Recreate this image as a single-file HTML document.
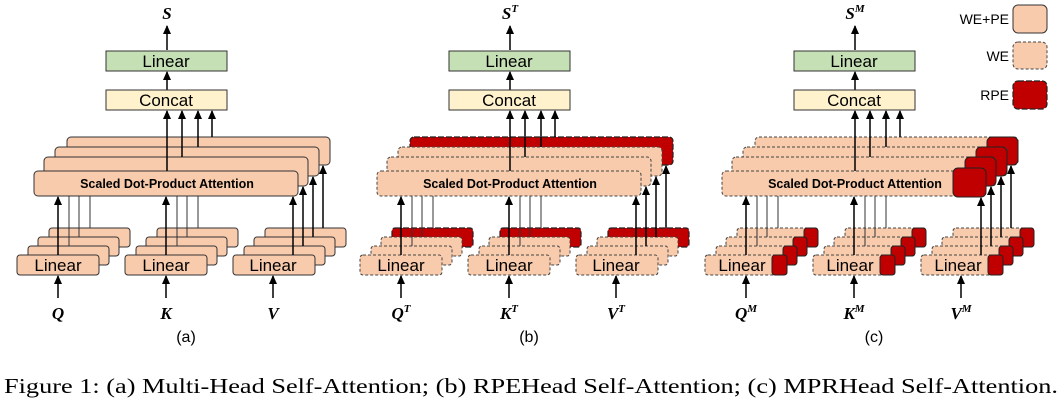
<!DOCTYPE html>
<html><head><meta charset="utf-8"><style>
body{margin:0;background:#fff;width:1064px;height:401px;overflow:hidden}
svg{display:block}
.p{fill:#F8CBAD;stroke:#333;stroke-width:1}
.d{fill:#F8CBAD;stroke:#444;stroke-width:1;stroke-dasharray:3,2}
.r{fill:#C00000;stroke:#222;stroke-width:1.2;stroke-dasharray:6,2}
.rs{fill:#C00000;stroke:#222;stroke-width:1}
.l{stroke:#000;stroke-width:1.5}
.t{stroke:#333;stroke-width:1}
.lab{font-family:"Liberation Sans",sans-serif}
.m{font-family:"Liberation Serif",serif;font-weight:bold;font-style:italic;font-size:17px}
</style></head><body>
<svg width="1064" height="401" viewBox="0 0 1064 401" xmlns="http://www.w3.org/2000/svg">
<defs><marker id="ah" markerWidth="9" markerHeight="8" refX="8" refY="4" orient="auto" markerUnits="userSpaceOnUse" viewBox="0 0 9 8"><path d="M0,0 L9,4 L0,8 z" fill="#000"/></marker></defs>

<!-- PANEL A -->
<g>
<text x="167" y="19" class="m" text-anchor="middle">S</text>
<line x1="167" y1="50" x2="167" y2="26" class="l" marker-end="url(#ah)"/>
<rect x="106" y="51" width="121" height="20" fill="#C5E0B4" stroke="#333"/>
<text x="166" y="67" class="lab" font-size="17" text-anchor="middle">Linear</text>
<line x1="167" y1="90" x2="167" y2="72" class="l" marker-end="url(#ah)"/>
<rect x="106" y="90" width="121" height="20" fill="#FFF2CC" stroke="#333"/>
<text x="166" y="106" class="lab" font-size="17" text-anchor="middle">Concat</text>
<rect x="67" y="137" width="263" height="28" rx="4" class="p"/>
<rect x="55" y="147" width="264" height="29" rx="4" class="p"/>
<rect x="44" y="157" width="264" height="29" rx="4" class="p"/>
<rect x="34" y="171" width="264" height="25" rx="4" class="p"/>
<text x="167" y="188" class="lab" font-size="12.5" font-weight="bold" text-anchor="middle">Scaled Dot-Product Attention</text>
<line x1="167" y1="171" x2="167" y2="111" class="l" marker-end="url(#ah)"/>
<line x1="182" y1="157" x2="182" y2="111" class="l" marker-end="url(#ah)"/>
<line x1="198" y1="147" x2="198" y2="111" class="l" marker-end="url(#ah)"/>
<line x1="212" y1="137" x2="212" y2="111" class="l" marker-end="url(#ah)"/>
<g><rect x="49" y="228" width="81" height="19" rx="3" class="p"/><rect x="38" y="237" width="81" height="19" rx="3" class="p"/><rect x="28" y="246" width="81" height="19" rx="3" class="p"/><rect x="17" y="255" width="82" height="20" rx="3" class="p"/><text x="58" y="271" class="lab" font-size="17" text-anchor="middle">Linear</text></g>
<g><rect x="157" y="228" width="81" height="19" rx="3" class="p"/><rect x="146" y="237" width="81" height="19" rx="3" class="p"/><rect x="136" y="246" width="81" height="19" rx="3" class="p"/><rect x="125" y="255" width="82" height="20" rx="3" class="p"/><text x="166" y="271" class="lab" font-size="17" text-anchor="middle">Linear</text></g>
<g><rect x="265" y="228" width="81" height="19" rx="3" class="p"/><rect x="254" y="237" width="81" height="19" rx="3" class="p"/><rect x="244" y="246" width="81" height="19" rx="3" class="p"/><rect x="233" y="255" width="82" height="20" rx="3" class="p"/><text x="273" y="271" class="lab" font-size="17" text-anchor="middle">Linear</text></g>
<line x1="58" y1="255" x2="58" y2="197" class="l" marker-end="url(#ah)"/>
<line x1="69" y1="246" x2="69" y2="196" class="t"/><line x1="79" y1="237" x2="79" y2="196" class="t"/><line x1="90" y1="228" x2="90" y2="196" class="t"/>
<line x1="166" y1="255" x2="166" y2="197" class="l" marker-end="url(#ah)"/>
<line x1="177" y1="246" x2="177" y2="196" class="t"/><line x1="187" y1="237" x2="187" y2="196" class="t"/><line x1="198" y1="228" x2="198" y2="196" class="t"/>
<line x1="293" y1="255" x2="293" y2="197" class="l" marker-end="url(#ah)"/>
<line x1="303" y1="246" x2="303" y2="187" class="l" marker-end="url(#ah)"/>
<line x1="313" y1="237" x2="313" y2="177" class="l" marker-end="url(#ah)"/>
<line x1="323" y1="228" x2="323" y2="166" class="l" marker-end="url(#ah)"/>
<line x1="58" y1="298" x2="58" y2="276" class="l" marker-end="url(#ah)"/>
<line x1="166" y1="298" x2="166" y2="276" class="l" marker-end="url(#ah)"/>
<line x1="273" y1="298" x2="273" y2="276" class="l" marker-end="url(#ah)"/>
<text x="58" y="319" class="m" text-anchor="middle">Q</text>
<text x="166" y="319" class="m" text-anchor="middle">K</text>
<text x="273" y="319" class="m" text-anchor="middle">V</text>
<text x="186" y="342" class="lab" font-size="16" text-anchor="middle">(a)</text>
</g>

<!-- PANEL B -->
<g transform="translate(343,0)">
<text x="167" y="19" class="m" text-anchor="middle">S<tspan font-size="11" dy="-7">T</tspan></text>
<line x1="167" y1="50" x2="167" y2="26" class="l" marker-end="url(#ah)"/>
<rect x="106" y="51" width="121" height="20" fill="#C5E0B4" stroke="#333"/>
<text x="166" y="67" class="lab" font-size="17" text-anchor="middle">Linear</text>
<line x1="167" y1="90" x2="167" y2="72" class="l" marker-end="url(#ah)"/>
<rect x="106" y="90" width="121" height="20" fill="#FFF2CC" stroke="#333"/>
<text x="166" y="106" class="lab" font-size="17" text-anchor="middle">Concat</text>
<rect x="67" y="137" width="263" height="28" rx="4" class="r"/>
<rect x="55" y="147" width="264" height="29" rx="4" class="d"/>
<rect x="44" y="157" width="264" height="29" rx="4" class="d"/>
<rect x="34" y="171" width="264" height="25" rx="4" class="d"/>
<text x="167" y="188" class="lab" font-size="12.5" font-weight="bold" text-anchor="middle">Scaled Dot-Product Attention</text>
<line x1="167" y1="171" x2="167" y2="111" class="l" marker-end="url(#ah)"/>
<line x1="182" y1="157" x2="182" y2="111" class="l" marker-end="url(#ah)"/>
<line x1="198" y1="147" x2="198" y2="111" class="l" marker-end="url(#ah)"/>
<line x1="212" y1="137" x2="212" y2="111" class="l" marker-end="url(#ah)"/>
<g><rect x="49" y="228" width="81" height="19" rx="3" class="r"/><rect x="38" y="237" width="81" height="19" rx="3" class="d"/><rect x="28" y="246" width="81" height="19" rx="3" class="d"/><rect x="17" y="255" width="82" height="20" rx="3" class="d"/><text x="58" y="271" class="lab" font-size="17" text-anchor="middle">Linear</text></g>
<g><rect x="157" y="228" width="81" height="19" rx="3" class="r"/><rect x="146" y="237" width="81" height="19" rx="3" class="d"/><rect x="136" y="246" width="81" height="19" rx="3" class="d"/><rect x="125" y="255" width="82" height="20" rx="3" class="d"/><text x="166" y="271" class="lab" font-size="17" text-anchor="middle">Linear</text></g>
<g><rect x="265" y="228" width="81" height="19" rx="3" class="r"/><rect x="254" y="237" width="81" height="19" rx="3" class="d"/><rect x="244" y="246" width="81" height="19" rx="3" class="d"/><rect x="233" y="255" width="82" height="20" rx="3" class="d"/><text x="273" y="271" class="lab" font-size="17" text-anchor="middle">Linear</text></g>
<line x1="58" y1="255" x2="58" y2="197" class="l" marker-end="url(#ah)"/>
<line x1="69" y1="246" x2="69" y2="196" class="t"/><line x1="79" y1="237" x2="79" y2="196" class="t"/><line x1="90" y1="228" x2="90" y2="196" class="t"/>
<line x1="166" y1="255" x2="166" y2="197" class="l" marker-end="url(#ah)"/>
<line x1="177" y1="246" x2="177" y2="196" class="t"/><line x1="187" y1="237" x2="187" y2="196" class="t"/><line x1="198" y1="228" x2="198" y2="196" class="t"/>
<line x1="293" y1="255" x2="293" y2="197" class="l" marker-end="url(#ah)"/>
<line x1="303" y1="246" x2="303" y2="187" class="l" marker-end="url(#ah)"/>
<line x1="313" y1="237" x2="313" y2="177" class="l" marker-end="url(#ah)"/>
<line x1="323" y1="228" x2="323" y2="166" class="l" marker-end="url(#ah)"/>
<line x1="58" y1="298" x2="58" y2="276" class="l" marker-end="url(#ah)"/>
<line x1="166" y1="298" x2="166" y2="276" class="l" marker-end="url(#ah)"/>
<line x1="273" y1="298" x2="273" y2="276" class="l" marker-end="url(#ah)"/>
<text x="58" y="319" class="m" text-anchor="middle">Q<tspan font-size="11" dy="-7">T</tspan></text>
<text x="166" y="319" class="m" text-anchor="middle">K<tspan font-size="11" dy="-7">T</tspan></text>
<text x="273" y="319" class="m" text-anchor="middle">V<tspan font-size="11" dy="-7">T</tspan></text>
<text x="186" y="342" class="lab" font-size="16" text-anchor="middle">(b)</text>
</g>

<!-- PANEL C -->
<g transform="translate(688,0)">
<text x="167" y="19" class="m" text-anchor="middle">S<tspan font-size="11" dy="-7">M</tspan></text>
<line x1="167" y1="50" x2="167" y2="26" class="l" marker-end="url(#ah)"/>
<rect x="106" y="51" width="121" height="20" fill="#C5E0B4" stroke="#333"/>
<text x="166" y="67" class="lab" font-size="17" text-anchor="middle">Linear</text>
<line x1="167" y1="90" x2="167" y2="72" class="l" marker-end="url(#ah)"/>
<rect x="106" y="90" width="121" height="20" fill="#FFF2CC" stroke="#333"/>
<text x="166" y="106" class="lab" font-size="17" text-anchor="middle">Concat</text>
<rect x="67" y="137" width="263" height="28" rx="4" class="d"/><rect x="299" y="137" width="31" height="28" rx="5" class="rs"/>
<rect x="55" y="147" width="264" height="29" rx="4" class="d"/><rect x="288" y="147" width="31" height="29" rx="5" class="rs"/>
<rect x="44" y="157" width="264" height="29" rx="4" class="d"/><rect x="277" y="157" width="31" height="29" rx="5" class="rs"/>
<rect x="34" y="171" width="264" height="25" rx="4" class="d"/>
<text x="167" y="188" class="lab" font-size="12.5" font-weight="bold" text-anchor="middle">Scaled Dot-Product Attention</text>
<rect x="265" y="168" width="33" height="29" rx="5" class="rs"/>
<line x1="167" y1="171" x2="167" y2="111" class="l" marker-end="url(#ah)"/>
<line x1="182" y1="157" x2="182" y2="111" class="l" marker-end="url(#ah)"/>
<line x1="198" y1="147" x2="198" y2="111" class="l" marker-end="url(#ah)"/>
<line x1="212" y1="137" x2="212" y2="111" class="l" marker-end="url(#ah)"/>
<g><rect x="49" y="228" width="81" height="19" rx="3" class="d"/><rect x="116" y="228" width="14" height="19" rx="3" class="rs"/><rect x="38" y="237" width="81" height="19" rx="3" class="d"/><rect x="105" y="237" width="14" height="19" rx="3" class="rs"/><rect x="28" y="246" width="81" height="19" rx="3" class="d"/><rect x="95" y="246" width="14" height="19" rx="3" class="rs"/><rect x="17" y="255" width="82" height="20" rx="3" class="d"/><text x="54" y="271" class="lab" font-size="17" text-anchor="middle">Linear</text><rect x="84" y="255" width="15" height="20" rx="3" class="rs"/></g>
<g><rect x="157" y="228" width="81" height="19" rx="3" class="d"/><rect x="224" y="228" width="14" height="19" rx="3" class="rs"/><rect x="146" y="237" width="81" height="19" rx="3" class="d"/><rect x="213" y="237" width="14" height="19" rx="3" class="rs"/><rect x="136" y="246" width="81" height="19" rx="3" class="d"/><rect x="203" y="246" width="14" height="19" rx="3" class="rs"/><rect x="125" y="255" width="82" height="20" rx="3" class="d"/><text x="162" y="271" class="lab" font-size="17" text-anchor="middle">Linear</text><rect x="192" y="255" width="15" height="20" rx="3" class="rs"/></g>
<g><rect x="265" y="228" width="81" height="19" rx="3" class="d"/><rect x="332" y="228" width="14" height="19" rx="3" class="rs"/><rect x="254" y="237" width="81" height="19" rx="3" class="d"/><rect x="321" y="237" width="14" height="19" rx="3" class="rs"/><rect x="244" y="246" width="81" height="19" rx="3" class="d"/><rect x="311" y="246" width="14" height="19" rx="3" class="rs"/><rect x="233" y="255" width="82" height="20" rx="3" class="d"/><text x="270" y="271" class="lab" font-size="17" text-anchor="middle">Linear</text><rect x="300" y="255" width="15" height="20" rx="3" class="rs"/></g>
<line x1="58" y1="255" x2="58" y2="197" class="l" marker-end="url(#ah)"/>
<line x1="69" y1="246" x2="69" y2="196" class="t"/><line x1="79" y1="237" x2="79" y2="196" class="t"/><line x1="90" y1="228" x2="90" y2="196" class="t"/>
<line x1="166" y1="255" x2="166" y2="197" class="l" marker-end="url(#ah)"/>
<line x1="177" y1="246" x2="177" y2="196" class="t"/><line x1="187" y1="237" x2="187" y2="196" class="t"/><line x1="198" y1="228" x2="198" y2="196" class="t"/>
<line x1="293" y1="255" x2="293" y2="198" class="l" marker-end="url(#ah)"/>
<line x1="303" y1="246" x2="303" y2="187" class="l" marker-end="url(#ah)"/>
<line x1="313" y1="237" x2="313" y2="177" class="l" marker-end="url(#ah)"/>
<line x1="323" y1="228" x2="323" y2="166" class="l" marker-end="url(#ah)"/>
<line x1="58" y1="298" x2="58" y2="276" class="l" marker-end="url(#ah)"/>
<line x1="166" y1="298" x2="166" y2="276" class="l" marker-end="url(#ah)"/>
<line x1="273" y1="298" x2="273" y2="276" class="l" marker-end="url(#ah)"/>
<text x="58" y="319" class="m" text-anchor="middle">Q<tspan font-size="11" dy="-7">M</tspan></text>
<text x="166" y="319" class="m" text-anchor="middle">K<tspan font-size="11" dy="-7">M</tspan></text>
<text x="273" y="319" class="m" text-anchor="middle">V<tspan font-size="11" dy="-7">M</tspan></text>
<text x="186" y="342" class="lab" font-size="16" text-anchor="middle">(c)</text>
</g>

<!-- LEGEND -->
<text x="1009" y="24" class="lab" font-size="14" text-anchor="end">WE+PE</text>
<rect x="1013" y="5" width="34" height="28" rx="5" class="p"/>
<text x="1009" y="61" class="lab" font-size="14" text-anchor="end">WE</text>
<rect x="1013" y="42" width="34" height="27" rx="5" class="d"/>
<text x="1009" y="100" class="lab" font-size="14" text-anchor="end">RPE</text>
<rect x="1013" y="81" width="34" height="28" rx="5" class="r"/>

<text x="4" y="393" font-family="Liberation Serif,serif" font-size="21" textLength="1054" lengthAdjust="spacingAndGlyphs">Figure 1: (a) Multi-Head Self-Attention; (b) RPEHead Self-Attention; (c) MPRHead Self-Attention.</text>
</svg>
</body></html>
